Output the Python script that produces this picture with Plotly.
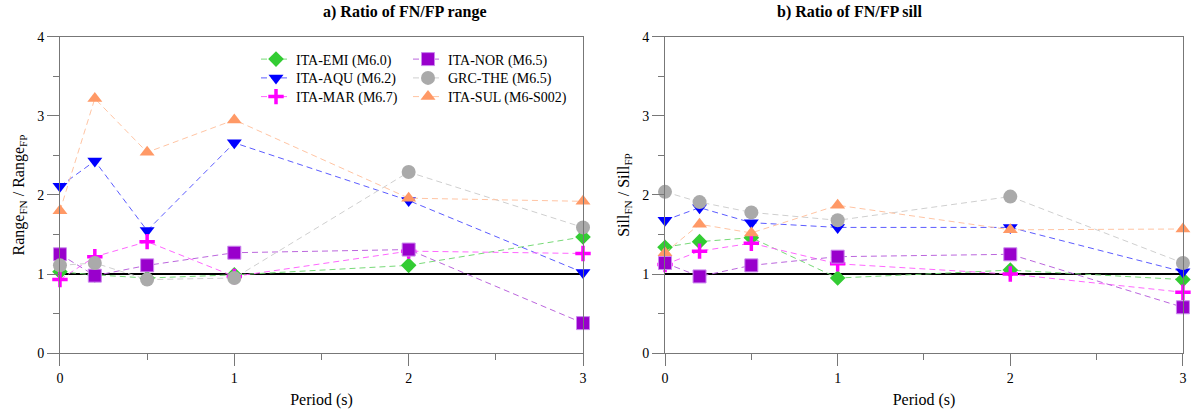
import plotly.graph_objects as go

# Periods (s) at which the FN/FP ratios were evaluated
periods = [0, 0.2, 0.5, 1, 2, 3]

# Event labels
events = ["ITA-EMI (M6.0)", "ITA-AQU (M6.2)", "ITA-MAR (M6.7)",
          "ITA-NOR (M6.5)", "GRC-THE (M6.5)", "ITA-SUL (M6-S002)"]

# Ratio of FN/FP range
range_emi = [1.03, 0.99, 0.95, 0.99, 1.11, 1.47]
range_aqu = [2.11, 2.43, 1.55, 2.66, 1.93, 1.02]
range_mar = [0.93, 1.22, 1.41, 0.97, 1.29, 1.26]
range_nor = [1.25, 0.98, 1.11, 1.27, 1.31, 0.38]
range_the = [1.11, 1.14, 0.93, 0.95, 2.29, 1.59]
range_sul = [1.80, 3.22, 2.54, 2.95, 1.96, 1.92]

# Ratio of FN/FP sill
sill_emi = [1.34, 1.41, 1.46, 0.95, 1.05, 0.93]
sill_aqu = [1.68, 1.84, 1.65, 1.59, 1.59, 1.03]
sill_mar = [1.12, 1.29, 1.39, 1.13, 1.00, 0.77]
sill_nor = [1.14, 0.97, 1.11, 1.22, 1.25, 0.58]
sill_the = [2.04, 1.91, 1.78, 1.68, 1.98, 1.14]
sill_sul = [1.27, 1.63, 1.52, 1.87, 1.56, 1.57]

range_series = [range_emi, range_aqu, range_mar, range_nor, range_the, range_sul]
sill_series = [sill_emi, sill_aqu, sill_mar, sill_nor, sill_the, sill_sul]

# marker colour, line colour, symbol, size, marker line width
styles = [
    dict(mc="#33cc33", lc="#77d977", sym="diamond", size=12, lw=0),
    dict(mc="#0000ff", lc="#5c5cff", sym="triangle-down", size=13, lw=0),
    dict(mc="#ff00ff", lc="#ff66ff", sym="cross-thin", size=11, lw=3.5),
    dict(mc="#9900cc", lc="#bb66dd", sym="square", size=13, lw=1),
    dict(mc="#aaaaaa", lc="#cfcfcf", sym="circle", size=14, lw=0),
    dict(mc="#ff9966", lc="#ffc4a3", sym="triangle-up", size=13, lw=0),
]

# Each legend entry gets its own legend box (two columns of three rows)
legend_ids = ["legend", "legend2", "legend3", "legend4", "legend5", "legend6"]
legend_x = [256, 256, 256, 408, 408, 408]      # px from the left edge
legend_y = [59.5, 78.3, 97.0, 59.5, 78.3, 97.0]  # px from the top edge

FONT = "Liberation Serif, Times New Roman, serif"
AXIS_COLOR = "#777777"
W, H = 1192, 414

fig = go.Figure()

for panel, series in enumerate([range_series, sill_series]):
    xa = "x" if panel == 0 else "x2"
    ya = "y" if panel == 0 else "y2"
    for name, vals, st, leg in zip(events, series, styles, legend_ids):
        if st["sym"] == "cross-thin":
            marker = dict(symbol="cross-thin", size=st["size"], color=st["mc"],
                          line=dict(color=st["mc"], width=st["lw"]))
        elif st["lw"] > 0:
            marker = dict(symbol=st["sym"], size=st["size"], color=st["mc"],
                          line=dict(color="#cc88ee", width=st["lw"]))
        else:
            marker = dict(symbol=st["sym"], size=st["size"], color=st["mc"],
                          line=dict(width=0))
        fig.add_trace(go.Scatter(
            x=periods, y=vals, name=name, mode="lines+markers",
            line=dict(color=st["lc"], width=1, dash="6px,4px"),
            marker=marker, xaxis=xa, yaxis=ya, cliponaxis=False,
            showlegend=(panel == 0), legend=leg,
        ))

# Reference line at ratio = 1
for xr, yr in [("x", "y"), ("x2", "y2")]:
    fig.add_shape(type="line", xref=xr, yref=yr, x0=0, x1=3, y0=1, y1=1,
                  line=dict(color="black", width=2), layer="below")

def xaxis_style(domain, anchor):
    return dict(
        domain=domain, anchor=anchor, range=[0, 3], dtick=1, tick0=0,
        showgrid=False, zeroline=False, showline=True, linecolor=AXIS_COLOR,
        linewidth=1, mirror=True, ticks="outside", ticklen=12,
        tickcolor=AXIS_COLOR, tickfont=dict(family=FONT, size=14, color="black"),
        minor=dict(dtick=0.5, ticks="outside", ticklen=6, tickcolor=AXIS_COLOR),
        title=dict(text="Period (s)", font=dict(family=FONT, size=16, color="black"),
                   standoff=8),
        automargin=False,
    )

def yaxis_style(anchor, title):
    return dict(
        domain=[0.147, 0.911], anchor=anchor, range=[0, 4], dtick=1, tick0=0,
        showgrid=False, zeroline=False, showline=True, linecolor=AXIS_COLOR,
        linewidth=1, mirror=True, ticks="outside", ticklen=12,
        tickcolor=AXIS_COLOR, tickfont=dict(family=FONT, size=14, color="black"),
        minor=dict(dtick=0.5, ticks="outside", ticklen=6, tickcolor=AXIS_COLOR),
        title=dict(text=title, font=dict(family=FONT, size=16, color="black"),
                   standoff=8),
        automargin=False,
    )

legend_common = dict(
    font=dict(family=FONT, size=14, color="black"),
    bgcolor="rgba(0,0,0,0)", borderwidth=0, orientation="v",
    xanchor="left", yanchor="middle",
)
legends = {
    leg: dict(x=lx / W, y=1 - ly / H, **legend_common)
    for leg, lx, ly in zip(legend_ids, legend_x, legend_y)
}

fig.update_layout(
    width=W, height=H,
    margin=dict(l=0, r=0, t=0, b=0),
    paper_bgcolor="white", plot_bgcolor="white",
    xaxis=xaxis_style([0.0503, 0.4891], "y"),
    yaxis=yaxis_style("x", "Range<sub>FN</sub> / Range<sub>FP</sub>"),
    xaxis2=xaxis_style([0.5579, 0.9924], "y2"),
    yaxis2=yaxis_style("x2", "Sill<sub>FN</sub> / Sill<sub>FP</sub>"),
    annotations=[
        dict(text="<b>a) Ratio of FN/FP range</b>", x=0.2697, y=1.0 - 12 / H,
             xref="paper", yref="paper", showarrow=False, yanchor="middle",
             font=dict(family=FONT, size=16, color="black")),
        dict(text="<b>b) Ratio of FN/FP sill</b>", x=0.7752, y=1.0 - 12 / H,
             xref="paper", yref="paper", showarrow=False, yanchor="middle",
             font=dict(family=FONT, size=16, color="black")),
    ],
    **legends,
)

fig.write_html("out.html")
